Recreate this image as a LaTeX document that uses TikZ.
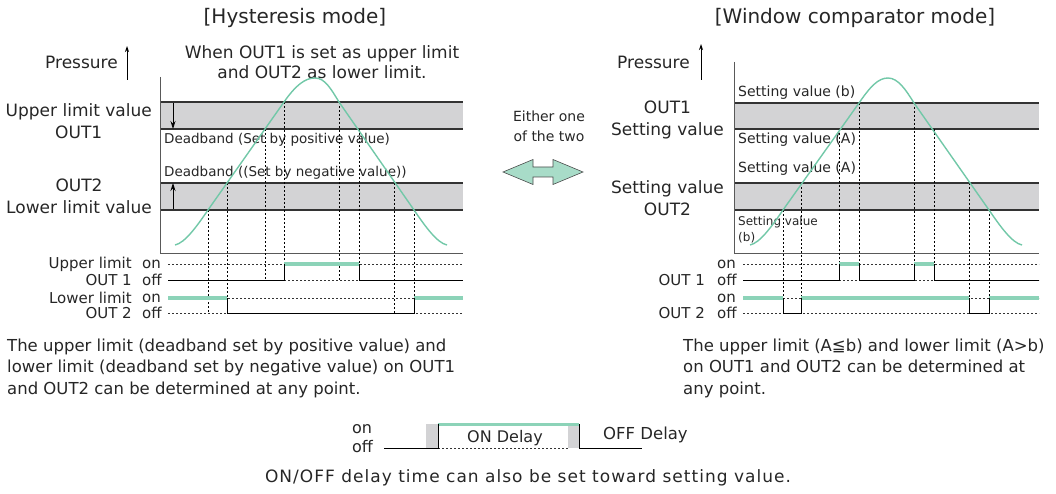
\documentclass[tikz,border=0pt]{standalone}
\usepackage{fontspec}
\setmainfont{DejaVu Sans}
\usetikzlibrary{arrows.meta}

\definecolor{curvegreen}{HTML}{72C8A8}
\definecolor{ongreen}{HTML}{8CD3B8}
\definecolor{arrowgreen}{HTML}{A8DCC8}
\definecolor{bandgray}{HTML}{D3D3D5}

\begin{document}
\begin{tikzpicture}[x=1pt, y=-1pt,
    every node/.style={inner sep=0pt, text=black!85},
    big/.style={font=\fontsize{17}{22}\selectfont},
    mid/.style={font=\fontsize{15}{18}\selectfont},
    small/.style={font=\fontsize{13.5}{16}\selectfont},
    band/.style={fill=bandgray},
    bandline/.style={line width=1.6pt, black!80},
    axis/.style={line width=0.9pt, black!65},
    curve/.style={line width=1.4pt, curvegreen},
    guide/.style={line width=0.8pt, dash pattern=on 2pt off 2pt},
    level/.style={line width=0.7pt, dash pattern=on 2pt off 2pt, black!80},
    sig/.style={line width=1pt},
    onsig/.style={line width=3.5pt, ongreen},
    dbarrow/.style={-{Stealth[length=8pt,width=5pt]}, line width=0.8pt}]
    \useasboundingbox (0,0) rectangle (1056,494);

    % hysteresis mode
    \node[font=\fontsize{20}{22}\selectfont] (htitle) at (295,18) {[Hysteresis mode]};
    \node[big, anchor=east] (hpress) at (118,62) {Pressure};
    \draw[-{Stealth[length=6pt,width=4pt]}, line width=0.9pt] (127,80) -- (127,46);
    \node[big, align=center, font=\fontsize{17}{20}\selectfont] (hnote) at (322,62) {When OUT1 is set as upper limit\\and OUT2 as lower limit.};

    \fill[band] (160,102) rectangle (463,129);
    \fill[band] (160,183) rectangle (463,210);
    \draw[bandline] (160,102) -- (463,102);
    \draw[bandline] (160,129) -- (463,129);
    \draw[bandline] (160,183) -- (463,183);
    \draw[bandline] (160,210) -- (463,210);
    \draw[axis] (160,77) -- (160,253) -- (463,253);
    \draw[dbarrow] (173,103) -- (173,129);
    \draw[dbarrow] (173,209) -- (173,183);

    \node[big, anchor=east, align=center] (hout1) at (152,121) {Upper limit value\\OUT1};
    \node[big, anchor=east, align=center] (hout2) at (152,196) {OUT2\\Lower limit value};
    \node[small, anchor=west] (hdbpos) at (164,140) {Deadband (Set by positive value)};
    \node[small, anchor=west] (hdbneg) at (164,173) {Deadband ((Set by negative value))};

    \foreach \x/\ya/\yb in {208/210/313, 227/183/313, 265/129/280, 284/102/280,
                            339/102/280, 359/129/280, 394/183/313, 414/210/313}
        \draw[guide] (\x,\ya) -- (\x,\yb);
    \draw[curve] (175,245) .. controls (185,243) and (197,226) .. (208,210) -- (284,102)
        .. controls (296,85) and (305,78) .. (315,78)
        .. controls (325,78) and (331,89) .. (339,102) -- (414,210)
        .. controls (425,226) and (437,243) .. (447,245);

    \node[mid, anchor=east] (hup) at (132,264) {Upper limit};
    \node[mid, anchor=east] (hupo) at (132,280) {OUT 1};
    \node[mid, anchor=east] (hlo) at (132,298) {Lower limit};
    \node[mid, anchor=east] (hloo) at (132,313) {OUT 2};
    \node[mid, anchor=west] (hon1) at (142,264) {on};
    \node[mid, anchor=west] (hoff1) at (142,280) {off};
    \node[mid, anchor=west] (hon2) at (142,298) {on};
    \node[mid, anchor=west] (hoff2) at (142,313) {off};
    \draw[level] (168,264) -- (463,264);
    \draw[level] (168,280) -- (463,280);
    \draw[level] (168,298) -- (463,298);
    \draw[level] (168,313) -- (463,313);
    \draw[onsig] (284,264) -- (359,264);
    \draw[onsig] (168,298) -- (227,298);
    \draw[onsig] (414,298) -- (463,298);
    \draw[sig] (168,280) -- (284,280) -- (284,264);
    \draw[sig] (359,264) -- (359,280) -- (463,280);
    \draw[sig] (227,298) -- (227,313) -- (414,313) -- (414,298);

    \node[big, anchor=west, align=left, font=\fontsize{16.5}{21.5}\selectfont] (htext) at (7,368)
        {The upper limit (deadband set by positive value) and\\lower limit (deadband set by negative value) on OUT1\\and OUT2 can be determined at any point.};

    % either one
    \node[small, align=center, font=\fontsize{14}{20}\selectfont] (either) at (549,126) {Either one\\of the two};
    \draw[fill=arrowgreen, draw=black!70, line width=0.6pt] (503,172) -- (533,159.5) -- (533,167) -- (553,167)
        -- (553,159.5) -- (583,172) -- (553,184.5) -- (553,177) -- (533,177) -- (533,184.5) -- cycle;

    % window comparator mode
    \node[font=\fontsize{20}{22}\selectfont] (wtitle) at (855,18) {[Window comparator mode]};
    \node[big, anchor=east] (wpress) at (690,62) {Pressure};
    \draw[-{Stealth[length=6pt,width=4pt]}, line width=0.9pt] (701,80) -- (701,44);

    \fill[band] (734,103) rectangle (1039,129);
    \fill[band] (734,183) rectangle (1039,210);
    \draw[bandline] (734,103) -- (1039,103);
    \draw[bandline] (734,129) -- (1039,129);
    \draw[bandline] (734,183) -- (1039,183);
    \draw[bandline] (734,210) -- (1039,210);
    \draw[axis] (734,62) -- (734,253) -- (1039,253);

    \node[big, anchor=east, align=center] (wout1) at (724,120) {OUT1\\Setting value};
    \node[big, anchor=east, align=center] (wout2) at (724,198) {Setting value\\OUT2};
    \node[small, anchor=west, font=\fontsize{14}{16}\selectfont] (wsb1) at (738,93) {Setting value (b)};
    \node[small, anchor=west, font=\fontsize{14}{16}\selectfont] (wsa1) at (738,140) {Setting value (A)};
    \node[small, anchor=west, font=\fontsize{14}{16}\selectfont] (wsa2) at (738,169) {Setting value (A)};
    \node[small, anchor=west, align=left, font=\fontsize{12}{16}\selectfont] (wsb2) at (738,230) {Setting value\\(b)};

    \foreach \x/\ya/\yb in {783/210/313, 801/183/313, 839/129/280, 859/103/280,
                            914/103/280, 934/129/280, 969/183/313, 989/210/313}
        \draw[guide] (\x,\ya) -- (\x,\yb);
    \draw[curve] (750,245) .. controls (760,243) and (772,226) .. (783,210) -- (859,103)
        .. controls (870,87) and (878,78) .. (888,78)
        .. controls (898,78) and (906,90) .. (914,103) -- (989,210)
        .. controls (1000,226) and (1012,243) .. (1022,245);

    \node[mid, anchor=east] (wupo) at (705,280) {OUT 1};
    \node[mid, anchor=east] (wloo) at (705,313) {OUT 2};
    \node[mid, anchor=west] (won1) at (717,264) {on};
    \node[mid, anchor=west] (woff1) at (717,280) {off};
    \node[mid, anchor=west] (won2) at (717,298) {on};
    \node[mid, anchor=west] (woff2) at (717,313) {off};
    \draw[level] (743,264) -- (1039,264);
    \draw[level] (743,280) -- (1039,280);
    \draw[level] (743,298) -- (1039,298);
    \draw[level] (743,313) -- (1039,313);
    \draw[onsig] (839,264) -- (859,264);
    \draw[onsig] (914,264) -- (934,264);
    \draw[onsig] (743,298) -- (783,298);
    \draw[onsig] (801,298) -- (969,298);
    \draw[onsig] (989,298) -- (1039,298);
    \draw[sig] (743,280) -- (839,280) -- (839,264);
    \draw[sig] (859,264) -- (859,280) -- (914,280) -- (914,264);
    \draw[sig] (934,264) -- (934,280) -- (1039,280);
    \draw[sig] (783,298) -- (783,313) -- (801,313) -- (801,298);
    \draw[sig] (969,298) -- (969,313) -- (989,313) -- (989,298);

    \node[big, anchor=west, align=left, font=\fontsize{16.5}{21.5}\selectfont] (wtext) at (683,368)
        {The upper limit (A≦b) and lower limit (A>b)\\on OUT1 and OUT2 can be determined at\\any point.};

    % on/off delay
    \node[big, anchor=west, font=\fontsize{16}{18}\selectfont] (don) at (352,429) {on};
    \node[big, anchor=west, font=\fontsize{16}{18}\selectfont] (doff) at (352,447) {off};
    \fill[bandgray] (426,424) rectangle (438,448);
    \fill[bandgray] (568,424) rectangle (579,448);
    \draw[level] (438,448) -- (568,448);
    \draw[onsig, line width=3pt] (438,424) -- (579,424);
    \draw[sig] (384,448) -- (438,448) -- (438,424);
    \draw[sig] (579,424) -- (579,448) -- (642,448);
    \node[big, font=\fontsize{16}{18}\selectfont] (dondelay) at (505,438) {ON Delay};
    \node[big, anchor=west, font=\fontsize{16.5}{18}\selectfont] (doffdelay) at (603,435) {OFF Delay};
    \node[font=\fontsize{17}{20}\selectfont\addfontfeatures{LetterSpace=6}] (dnote) at (528,478) {ON/OFF delay time can also be set toward setting value.};
\end{tikzpicture}
\end{document}
